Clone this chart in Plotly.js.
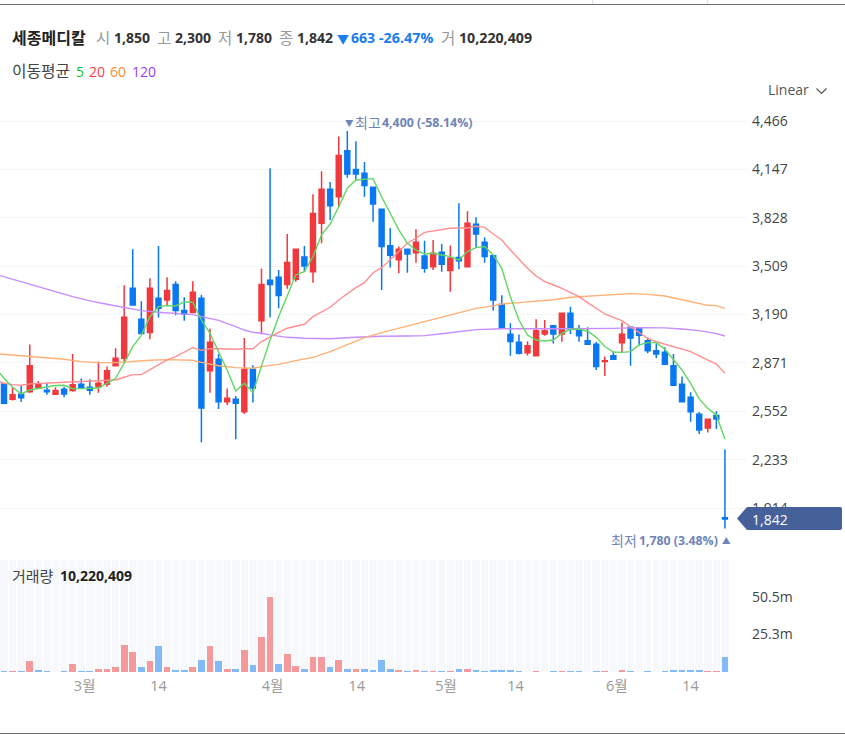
<!DOCTYPE html>
<html><head><meta charset="utf-8">
<script src="https://cdn.plot.ly/plotly-3.0.1.min.js"></script>
<style>html,body{margin:0;padding:0;background:#fff;overflow:hidden}#c{width:845px;height:738px}</style>
</head><body><div id="c"></div>
<script>
// candles oldest -> newest: open, high, low, close (KRW)
const opens=[2733,2632,2664,2682,2708,2691,2664,2697,2689,2730,2711,2715,2730,2853,2902,3363,3159,3071,3297,3286,3389,3216,3203,3297,2820,2895,2616,2631,2550,2829,3150,3416,3436,3389,3422,3570,3473,3792,4016,3967,4270,4147,4121,4029,3884,3644,3552,3620,3598,3576,3506,3600,3480,3567,3506,3785,3666,3578,3258,3060,3007,2939,2919,3062,3117,3062,3198,3093,3018,2994,2880,2919,3005,3106,3102,3018,2952,2941,2853,2730,2645,2533,2442,2524,1850];
const highs=[2733,2711,2719,2992,2752,2741,2711,2715,2930,2768,2763,2880,2847,2968,3383,3620,3277,3429,3642,3436,3409,3304,3409,3321,3097,2930,2702,2653,3036,2856,3493,4154,3484,3721,3620,3642,3983,4134,4064,4363,4400,4332,4196,4029,3884,3761,3638,3620,3752,3677,3682,3655,3646,3923,3871,3831,3699,3578,3317,3132,3058,3014,3159,3154,3117,3198,3242,3121,3106,3011,2913,2943,3137,3106,3102,3040,3000,2974,2930,2781,2678,2548,2500,2552,2300];
const lows=[2599,2623,2614,2675,2704,2662,2660,2645,2682,2704,2662,2675,2715,2847,2869,3249,3066,3027,3170,3253,3185,3150,3198,2348,2675,2568,2594,2368,2535,2610,3060,3172,3231,3361,3407,3473,3400,3660,3813,3897,4092,4077,3967,3802,3352,3501,3462,3466,3532,3466,3484,3473,3341,3488,3502,3629,3532,3216,3099,2919,2926,2921,2919,3051,3000,3011,3062,3011,2994,2825,2785,2895,2943,2853,2985,2935,2902,2862,2724,2616,2484,2403,2412,2436,1780];
const closes=[2605,2662,2642,2853,2733,2682,2689,2667,2728,2708,2691,2737,2820,2902,3172,3253,3066,3363,3231,3348,3216,3194,3337,2574,3007,2616,2638,2605,2829,2706,3389,3389,3315,3534,3620,3510,3857,4016,3908,4238,4117,4117,4040,3919,3638,3581,3620,3589,3666,3495,3594,3521,3561,3545,3792,3721,3572,3286,3099,3012,2935,2985,3084,3084,3062,3198,3095,3051,2994,2847,2886,2895,3060,3036,3053,2952,2930,2862,2724,2616,2550,2429,2500,2502,1842];
// volume in millions of shares, and whether the bar is drawn red (R) or blue (B)
const volumes=[0.7,0.7,0.7,7.4,1.3,0.7,0,0.7,5.6,0.7,0.7,2.2,2.2,3.1,18.1,13.2,3.1,7.4,17.4,3.1,1.6,1.6,3.1,8.0,17.4,7.4,2.2,2.2,14.8,4.7,23.3,50.5,5.6,12.3,4.0,2.2,9.8,9.8,3.1,8.1,2.2,2.2,2.2,1.3,8.1,2.2,1.3,0.7,1.3,0.7,0.7,0.7,0.7,2.2,2.2,1.5,0.7,1.5,1.3,1.3,0.7,0,0.7,0,0.7,0.7,0.7,0.7,0,0.7,0.7,0,1.3,0.7,0,0.7,0,0.7,1.3,1.3,1.3,1.3,0.7,0.7,10.2];
const volumeSides=[
 "B","R","B","R","B","B","R","B","R","B",
 "B","R","R","R","R","R","B","R","B","R",
 "B","B","R","B","R","B","R","B","R","B",
 "R","R","B","R","R","B","R","R","B","R",
 "B","R","B","B","B","B","R","B","R","B",
 "R","B","R","B","R","B","B","B","B","B",
 "B","B","R","B","B","R","B","B","B","B",
 "R","B","R","B","B","B","B","B","B","B",
 "B","B","R","R","B"];
// moving averages; lead-in value sits just left of the first candle
const ma5=[2803,2770,2711,2667,2693,2704,2715,2722,2724,2702,2702,2702,2706,2737,2770,2869,2979,3053,3176,3242,3249,3247,3273,3271,3154,3067,2946,2825,2686,2737,2675,2847,3023,3176,3308,3451,3473,3572,3715,3787,3901,4022,4077,4084,4086,3967,3857,3748,3660,3616,3589,3594,3583,3572,3550,3605,3631,3638,3583,3495,3308,3154,3055,3022,3016,3022,3066,3093,3093,3082,3040,2979,2943,2941,2946,2990,3005,3005,2961,2891,2825,2737,2634,2572,2528,2368];
const ma20=[2748,2737,2728,2724,2733,2737,2741,2741,2744,2746,2748,2755,2755,2759,2759,2777,2794,2794,2825,2858,2891,2913,2941,2972,2954,2965,2965,2963,2961,2965,2965,3012,3044,3073,3100,3115,3126,3176,3209,3238,3286,3330,3368,3400,3466,3499,3550,3605,3660,3693,3732,3741,3748,3759,3761,3761,3772,3765,3721,3682,3616,3554,3495,3444,3407,3385,3363,3334,3308,3269,3231,3194,3172,3150,3110,3071,3033,3011,2994,2979,2963,2946,2917,2891,2864,2803];
const ma60At=[-0.47,2,5,7,9,11,13,15,17,19,21,22,23,25,27,29,30,32,34,36,38,40,42,44,46,48,50,52,54,55,57,58,60,62,64,66,68,70,72,73,75,77,79,81,82,83,84];
const ma60=[2930,2919,2906,2895,2880,2873,2873,2882,2889,2893,2889,2889,2875,2853,2840,2836,2847,2862,2886,2908,2946,2994,3038,3071,3100,3132,3161,3187,3214,3231,3247,3260,3269,3280,3288,3304,3312,3319,3326,3328,3323,3312,3288,3264,3251,3249,3231];
const ma120At=[-0.47,2,4,6,8,10,12,14,16,18,20,22,23,25,27,28,29,30,31,33,35,38,41,44,47,49,51,53,55,58,60,63,66,68,71,74,77,79,81,83,84];
const ma120=[3447,3407,3378,3341,3308,3280,3258,3238,3216,3205,3196,3190,3176,3152,3110,3088,3073,3067,3056,3040,3034,3031,3040,3047,3049,3051,3064,3077,3091,3097,3095,3097,3097,3097,3099,3104,3102,3095,3084,3064,3049];
// axes
const priceTicks=[4466,4147,3828,3509,3190,2871,2552,2233,1914];
const priceLabels=["4,466","4,147","3,828","3,509","3,190","2,871","2,552","2,233","1,914"];
const volTicks=[25.3,50.5];
const volLabels=["25.3m","50.5m"];
const dateTicks=[9.4,18,31.3,41.1,51.5,59.6,71.4,80];
const dateLabels=["3월","14","4월","14","5월","14","6월","14"];

const W=845,H=738;
const idx=closes.map((_,i)=>i);
const maX=[-0.47].concat(idx);
const volTop=75.1;
const px=v=>v/W, py=v=>1-v/H;
const FONT='"Open Sans","Noto Sans CJK KR",sans-serif';
const REDV='#f59a9c',BLUEV='#82baf8';

const traces=[
 {type:'candlestick',x:idx,open:opens,high:highs,low:lows,close:closes,xaxis:'x',yaxis:'y',whiskerwidth:0,
  increasing:{line:{color:'#f0393e',width:1.5},fillcolor:'#f0393e'},
  decreasing:{line:{color:'#0a78f0',width:1.5},fillcolor:'#0a78f0'},hoverinfo:'skip',showlegend:false},
 {type:'scatter',mode:'lines',x:ma120At,y:ma120,line:{color:'#c78cff',width:1.4},hoverinfo:'skip'},
 {type:'scatter',mode:'lines',x:ma60At,y:ma60,line:{color:'#ffb074',width:1.4},hoverinfo:'skip'},
 {type:'scatter',mode:'lines',x:maX,y:ma20,line:{color:'#ff8f8f',width:1.4},hoverinfo:'skip'},
 {type:'scatter',mode:'lines',x:maX,y:ma5,line:{color:'#62d662',width:1.4},hoverinfo:'skip'},
 {type:'bar',x:idx,y:idx.map(()=>volTop),yaxis:'y2',width:0.88,marker:{color:'#f6f8fc',line:{width:0}},hoverinfo:'skip'},
 {type:'bar',x:idx,y:volumes,yaxis:'y2',width:0.78,marker:{color:volumeSides.map(s=>s==='R'?REDV:BLUEV),line:{width:0}},hoverinfo:'skip'}
];
function ann(x,y,text,size,color,extra){
 return Object.assign({xref:'paper',yref:'paper',x:px(x),y:py(y),text:text,showarrow:false,xanchor:'left',yanchor:'middle',
   font:{family:FONT,size:size,color:color},borderpad:0,borderwidth:0},extra||{});
}
const DK='#333',GR='#999',BL='#1a7cf0',SL='#6f84b6';
const annotations=[
 ann(12,38,'<b>세종메디칼</b>',16,'#222'),
 ann(96,38,'시',15.5,GR),ann(114,38,'<b>1,850</b>',14,DK),
 ann(157,38,'고',15.5,GR),ann(175,38,'<b>2,300</b>',14,DK),
 ann(218,38,'저',15.5,GR),ann(236,38,'<b>1,780</b>',14,DK),
 ann(279,38,'종',15.5,GR),ann(297,38,'<b>1,842</b>',14,DK),
 ann(337,39,'▼',12,BL),ann(351,38,'<b>663</b>',14,BL),ann(379,38,'<b>-26.47%</b>',14.3,BL),
 ann(441,38,'거',15.5,GR),ann(459,38,'<b>10,220,409</b>',14.2,DK),
 ann(12,71,'이동평균',15.8,'#444'),
 ann(76,71,'5',14,'#18c818'),ann(89,71,'20',14,'#ff3b4a'),ann(110,71,'60',14,'#ff8a2a'),ann(132,71,'120',14,'#9a40ff'),
 ann(768,89,'Linear',14,'#555'),
 ann(345,122,'▼',8.5,SL),ann(355,122,'최고',14,SL),ann(382,122,'<b>4,400 (-58.14%)</b>',12.4,SL),
 ann(611,540,'최저',14,SL),ann(639,540,'<b>1,780 (3.48%)</b>',12.3,SL),ann(722,540,'▲',8.5,SL),
 ann(752,519,'1,842',14,'#fff'),
 ann(12,576,'거래량',15,'#444'),ann(60,575,'<b>10,220,409</b>',14,'#222')
];
const hline=(y,c)=>({type:'line',xref:'paper',yref:'paper',layer:'above',x0:0,x1:1,y0:py(y),y1:py(y),line:{color:c,width:1}});
const vtick=(x)=>({type:'line',xref:'paper',yref:'paper',layer:'above',x0:px(x),x1:px(x),y0:py(0),y1:py(4),line:{color:'#dfe2e6',width:1}});
const shapes=[
 hline(4.5,'#666b73'),hline(733.5,'#666b73'),vtick(592.5),vtick(707.5),
 {type:'path',xref:'paper',yref:'paper',layer:'above',line:{width:0},fillcolor:'#466099',
  path:`M ${px(737)} ${py(518.5)} L ${px(747)} ${py(507)} L ${px(840)} ${py(507)} Q ${px(842)} ${py(507)} ${px(842)} ${py(509)} L ${px(842)} ${py(528)} Q ${px(842)} ${py(530)} ${px(840)} ${py(530)} L ${px(747)} ${py(530)} Z`},
 {type:'path',xref:'paper',yref:'paper',layer:'above',line:{width:1.2,color:'#555'},
  path:`M ${px(816.5)} ${py(88.5)} L ${px(821.5)} ${py(93.5)} L ${px(826.5)} ${py(88.5)}`}
];
const layout={width:W,height:H,margin:{l:0,r:0,t:0,b:0},paper_bgcolor:'#fff',plot_bgcolor:'#fff',showlegend:false,barmode:'overlay',bargap:0,
 boxmode:'overlay',boxgap:0.18,dragmode:false,hovermode:false,
 font:{family:FONT,size:14,color:'#444'},
 xaxis:{domain:[0,747/W],range:[-0.466,86.57],anchor:'y2',tickmode:'array',tickvals:dateTicks,ticktext:dateLabels,ticks:'',showgrid:false,zeroline:false,showline:false,
   tickfont:{family:FONT,size:14.5,color:'#999'},ticklabelstandoff:3,rangeslider:{visible:false},fixedrange:true},
 yaxis:{domain:[1-553/H,1-100/H],range:[1618.3,4604.4],side:'right',anchor:'x',tickmode:'array',tickvals:priceTicks,ticktext:priceLabels,ticks:'',ticklen:0,
   showgrid:true,gridcolor:'#f3f5f7',gridwidth:1,zeroline:false,showline:false,tickfont:{family:FONT,size:14,color:'#444'},ticklabelstandoff:4,fixedrange:true},
 yaxis2:{domain:[1-672/H,1-560/H],range:[0,volTop],side:'right',anchor:'x',tickmode:'array',tickvals:volTicks,ticktext:volLabels,ticks:'',
   showgrid:false,zeroline:false,showline:false,tickfont:{family:FONT,size:14,color:'#444'},ticklabelstandoff:4,fixedrange:true},
 annotations:annotations,shapes:shapes
};
Plotly.newPlot('c',traces,layout,{staticPlot:true,displayModeBar:false});
</script></body></html>
